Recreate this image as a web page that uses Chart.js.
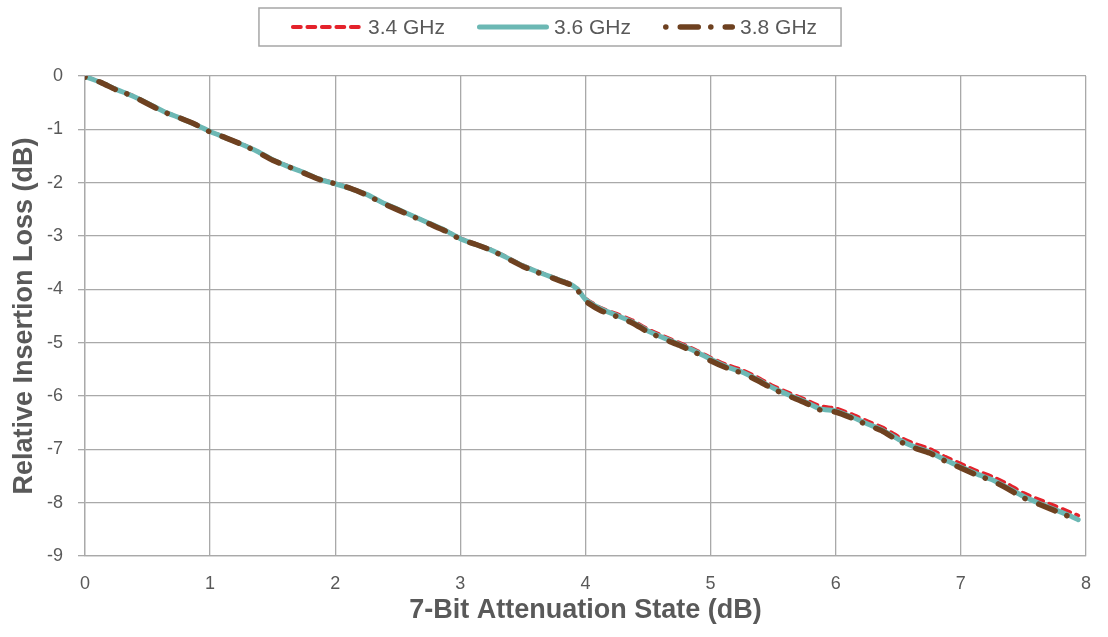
<!DOCTYPE html>
<html>
<head>
<meta charset="utf-8">
<script src="https://cdn.jsdelivr.net/npm/chart.js@4.4.0/dist/chart.umd.min.js"></script>
<style>
  html, body { margin: 0; padding: 0; background: #fff; }
  #wrap { width: 1108px; height: 637px; }
</style>
</head>
<body>
<div id="wrap"><canvas id="myChart"></canvas></div>
<script>
// attenuation state (dB) on x, relative insertion loss (dB) on y
const attenState = [0, 0.125, 0.25, 0.375, 0.5, 0.625, 0.75, 0.875,
  1, 1.125, 1.25, 1.375, 1.5, 1.625, 1.75, 1.875,
  2, 2.125, 2.25, 2.375, 2.5, 2.625, 2.75, 2.875,
  3, 3.125, 3.25, 3.375, 3.5, 3.625, 3.75, 3.875, 3.9375,
  4, 4.125, 4.25, 4.375, 4.5, 4.625, 4.75, 4.875,
  5, 5.125, 5.25, 5.375, 5.5, 5.625, 5.75, 5.875,
  6, 6.125, 6.25, 6.375, 6.5, 6.625, 6.75, 6.875,
  7, 7.125, 7.25, 7.375, 7.5, 7.625, 7.75, 7.875, 7.9375];

const loss34 = [-0.01, -0.11, -0.25, -0.36, -0.51, -0.66, -0.77, -0.89,
  -1.04, -1.15, -1.27, -1.41, -1.57, -1.69, -1.81, -1.93,
  -2.01, -2.10, -2.22, -2.37, -2.50, -2.63, -2.76, -2.89,
  -3.04, -3.15, -3.26, -3.40, -3.55, -3.67, -3.78, -3.89, -3.99,
  -4.17, -4.35, -4.46, -4.58, -4.75, -4.88, -5.00, -5.13,
  -5.28, -5.41, -5.51, -5.65, -5.81, -5.94, -6.06, -6.19,
  -6.23, -6.34, -6.47, -6.59, -6.76, -6.89, -6.99, -7.14,
  -7.27, -7.40, -7.51, -7.65, -7.82, -7.94, -8.06, -8.18, -8.24];

const loss36 = [-0.01, -0.12, -0.25, -0.37, -0.51, -0.66, -0.78, -0.90,
  -1.04, -1.16, -1.28, -1.41, -1.57, -1.70, -1.81, -1.94,
  -2.02, -2.11, -2.22, -2.37, -2.50, -2.63, -2.76, -2.89,
  -3.05, -3.16, -3.27, -3.41, -3.56, -3.68, -3.79, -3.90, -4.00,
  -4.19, -4.37, -4.49, -4.61, -4.78, -4.91, -5.03, -5.16,
  -5.31, -5.45, -5.55, -5.69, -5.85, -5.98, -6.10, -6.24,
  -6.28, -6.39, -6.52, -6.64, -6.81, -6.95, -7.05, -7.20,
  -7.33, -7.46, -7.57, -7.72, -7.88, -8.01, -8.13, -8.25, -8.32];

const loss38 = [-0.02, -0.12, -0.26, -0.37, -0.52, -0.67, -0.78, -0.90,
  -1.05, -1.16, -1.28, -1.42, -1.58, -1.70, -1.82, -1.94,
  -2.02, -2.11, -2.23, -2.38, -2.51, -2.64, -2.77, -2.90,
  -3.06, -3.16, -3.27, -3.42, -3.57, -3.69, -3.80, -3.91, -4.02,
  -4.22, -4.40, -4.51, -4.63, -4.80, -4.93, -5.05, -5.18,
  -5.34, -5.47, -5.57, -5.71, -5.87, -6.00, -6.12, -6.26,
  -6.30, -6.41, -6.54, -6.66, -6.84, -6.97, -7.07, -7.22,
  -7.35, -7.48, -7.59, -7.74, -7.91, -8.03, -8.15, -8.27, -8.34];

const seriesNames = ['3.4 GHz', '3.6 GHz', '3.8 GHz'];
const xTickValues = [0, 1, 2, 3, 4, 5, 6, 7, 8];
const yTickValues = [0, -1, -2, -3, -4, -5, -6, -7, -8, -9];

const FONT = '"Liberation Sans", Arial, sans-serif';
const GREY_TEXT = '#595959';
const GRID = '#A9A9A9';

function points(ys) {
  return attenState.map((x, i) => ({ x: x, y: ys[i] }));
}

// legend with a frame, drawn from the dataset styles
const boxedLegend = {
  id: 'boxedLegend',
  afterDraw(chart) {
    const ctx = chart.ctx;
    ctx.save();
    ctx.font = '21px ' + FONT;
    const items = chart.data.datasets.map(ds => ({ ds: ds, w: ctx.measureText(ds.label).width }));
    const sample = 72, textGap = 5, itemGap = 32;
    let total = itemGap * (items.length - 1);
    items.forEach(it => { total += sample + textGap + it.w; });
    let x = chart.width / 2 - total / 2;
    const y = 27;

    ctx.strokeStyle = '#A6A6A6';
    ctx.lineWidth = 1.5;
    ctx.strokeRect(x - 32, 8, total + 32 + 24, 38);

    items.forEach(it => {
      const ds = it.ds;
      const half = ds.borderWidth / 2;
      ctx.beginPath();
      ctx.setLineDash(ds.borderDash || []);
      ctx.lineCap = ds.borderCapStyle || 'butt';
      ctx.strokeStyle = ds.borderColor;
      ctx.lineWidth = ds.borderWidth;
      ctx.moveTo(x + half, y);
      ctx.lineTo(x + sample - half, y);
      ctx.stroke();
      ctx.setLineDash([]);
      ctx.fillStyle = GREY_TEXT;
      ctx.textBaseline = 'middle';
      ctx.textAlign = 'left';
      ctx.fillText(ds.label, x + sample + textGap, y + 1);
      x += sample + textGap + it.w + itemGap;
    });
    ctx.restore();
  }
};

const ctx = document.getElementById('myChart').getContext('2d');
new Chart(ctx, {
  type: 'line',
  data: {
    datasets: [{
      label: seriesNames[0],
      data: points(loss34),
      borderColor: '#E4222B',
      borderWidth: 3.8,
      borderDash: [8, 6.5],
      borderCapStyle: 'round',
      pointRadius: 0,
      tension: 0.2,
      fill: false,
      order: 3
    }, {
      label: seriesNames[1],
      data: points(loss36),
      borderColor: '#6CB8B4',
      borderWidth: 5,
      borderCapStyle: 'round',
      pointRadius: 0,
      tension: 0.2,
      fill: false,
      order: 2
    }, {
      label: seriesNames[2],
      data: points(loss38),
      borderColor: '#6E4120',
      borderWidth: 5.5,
      borderDash: [0.1, 14.4, 18, 12.5],
      borderCapStyle: 'round',
      pointRadius: 0,
      tension: 0.2,
      fill: false,
      order: 1
    }]
  },
  options: {
    responsive: true,
    maintainAspectRatio: false,
    animation: false,
    devicePixelRatio: 1,
    layout: { padding: { top: 76, right: 20, bottom: 0, left: 0 } },
    plugins: {
      legend: { display: false },
      tooltip: { enabled: false }
    },
    scales: {
      x: {
        type: 'linear',
        min: 0,
        max: 8,
        afterBuildTicks: axis => { axis.ticks = xTickValues.map(v => ({ value: v })); },
        afterFit: axis => { axis.height = 81; },
        grid: { color: GRID, lineWidth: 1.3, drawTicks: false },
        border: { color: GRID, width: 1.3 },
        ticks: { color: GREY_TEXT, font: { family: FONT, size: 18 }, padding: 17, maxRotation: 0 },
        title: {
          display: true,
          text: '7-Bit Attenuation State (dB)',
          color: GREY_TEXT,
          font: { family: FONT, size: 27, weight: 'bold' },
          padding: { top: 0, bottom: 10 }
        }
      },
      y: {
        type: 'linear',
        min: -9,
        max: 0,
        afterBuildTicks: axis => { axis.ticks = yTickValues.map(v => ({ value: v })); },
        afterFit: axis => { axis.width = 85; },
        grid: { color: GRID, lineWidth: 1.3, tickLength: 7 },
        border: { color: GRID, width: 1.3 },
        ticks: { color: GREY_TEXT, font: { family: FONT, size: 18 }, padding: 15 },
        title: {
          display: true,
          text: 'Relative Insertion Loss (dB)',
          color: GREY_TEXT,
          font: { family: FONT, size: 27, weight: 'bold' },
          padding: { top: 8, bottom: 0 }
        }
      }
    }
  },
  plugins: [boxedLegend]
});
</script>
</body>
</html>
